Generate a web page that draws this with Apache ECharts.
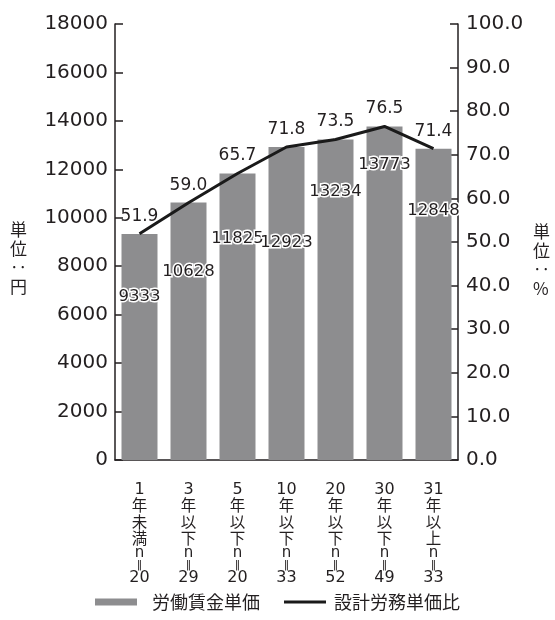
<!DOCTYPE html>
<html><head><meta charset="utf-8">
<script src="https://cdn.jsdelivr.net/npm/echarts@6/dist/echarts.min.js"></script>
<style>html,body{margin:0;padding:0;background:#fff}#c{width:555px;height:620px}</style>
</head><body><div id="c"></div>
<script>
const categories = ['1年未満','3年以下','5年以下','10年以下','20年以下','30年以下','31年以上'];
const sampleSizes = [20, 29, 20, 33, 52, 49, 33];
const wageValues = [9333, 10628, 11825, 12923, 13234, 13773, 12848];
const ratioValues = [51.9, 59.0, 65.7, 71.8, 73.5, 76.5, 71.4];
const leftTicks = {min: 0, max: 18000, interval: 2000};
const rightTicks = {min: 0, max: 100, interval: 10};
const seriesNames = ['労働賃金単価', '設計労務単価比'];
// label layout tweaks (style only)
const barLabelShift = [54, 61, 57, 87, 44, 30, 53];

const FONT = '"Noto Sans CJK JP", "Noto Sans", sans-serif';
const NUMFONT = '"DejaVu Sans", sans-serif';
const TXT = '#231f20';
const chart = echarts.init(document.getElementById('c'));

function vertLabel(cat, idx) {
  const m = cat.match(/^(\d+)(.*)$/);
  const lines = ['{d|' + m[1] + '}'];
  m[2].split('').forEach(ch => lines.push('{c|' + ch + '}'));
  lines.push('{n|n}', '{e|‖}', '{d|' + sampleSizes[idx] + '}');
  return lines.join('\n');
}

chart.setOption({
  animation: false,
  textStyle: {fontFamily: FONT, color: TXT},
  grid: {left: 115, right: 97, top: 24, bottom: 160, containLabel: false},
  legend: {
    bottom: 4, left: 'center', itemGap: 24, itemWidth: 42, itemHeight: 7,
    textStyle: {fontSize: 18, color: TXT, fontFamily: FONT},
    data: [
      {name: seriesNames[0], icon: 'rect', textStyle: {padding: [0, 0, 0, 10]}},
      {name: seriesNames[1], icon: 'path://M0,0h42v3h-42z', itemStyle: {color: '#1a1a1a'}, textStyle: {padding: [0, 0, 0, 3]}}
    ]
  },
  xAxis: {
    type: 'category', data: categories,
    axisLine: {lineStyle: {color: TXT, width: 1.5}},
    axisTick: {show: false},
    axisLabel: {
      interval: 0, margin: 22, color: TXT, verticalAlign: 'top',
      formatter: (v, i) => vertLabel(v, i),
      rich: {
        d: {fontFamily: NUMFONT, fontSize: 16, lineHeight: 15, color: TXT},
        c: {fontFamily: FONT, fontSize: 15.5, lineHeight: 16.5, color: TXT},
        n: {fontFamily: NUMFONT, fontSize: 15, lineHeight: 12.5, color: TXT},
        e: {fontFamily: NUMFONT, fontSize: 11, lineHeight: 11.5, color: TXT}
      }
    }
  },
  yAxis: [
    {
      type: 'value', min: leftTicks.min, max: leftTicks.max, interval: leftTicks.interval,
      axisLine: {show: true, lineStyle: {color: TXT, width: 1.5}},
      axisTick: {show: true, inside: true, length: 8, lineStyle: {color: TXT, width: 1.5}},
      splitLine: {show: false},
      axisLabel: {fontSize: 20, color: TXT, margin: 7, fontFamily: NUMFONT, formatter: v => String(v)}
    },
    {
      type: 'value', min: rightTicks.min, max: rightTicks.max, interval: rightTicks.interval,
      position: 'right',
      axisLine: {show: true, lineStyle: {color: TXT, width: 1.5}},
      axisTick: {show: true, inside: true, length: 8, lineStyle: {color: TXT, width: 1.5}},
      splitLine: {show: false},
      axisLabel: {fontSize: 20, color: TXT, margin: 8, fontFamily: NUMFONT, formatter: v => v.toFixed(1)}
    }
  ],
  series: [
    {
      name: seriesNames[0], type: 'bar', yAxisIndex: 0, barWidth: 36,
      itemStyle: {color: '#8d8d8f'},
      data: wageValues.map((v, i) => ({
        value: v,
        label: {offset: [0, barLabelShift[i]]}
      })),
      label: {
        show: true, position: 'insideTop', distance: 0, fontSize: 16.5, color: TXT,
        fontFamily: NUMFONT, textBorderColor: '#fff', textBorderWidth: 3
      },
      z: 2
    },
    {
      name: seriesNames[1], type: 'line', yAxisIndex: 1,
      symbol: 'circle', symbolSize: 0, showSymbol: true,
      lineStyle: {color: '#1a1a1a', width: 3},
      itemStyle: {color: '#1a1a1a'},
      data: ratioValues,
      label: {
        show: true, position: 'top', distance: 9, fontSize: 17, color: TXT,
        fontFamily: NUMFONT, formatter: p => p.value.toFixed(1)
      },
      labelLayout: {hideOverlap: false},
      z: 3
    }
  ],
  graphic: [
    {type: 'text', left: 10, top: 220, style: {text: '単\n位\n‥\n円', font: '17px ' + FONT, fill: TXT, lineHeight: 19, align: 'center'}},
    {type: 'text', left: 533, top: 222, style: {text: '単\n位\n‥\n%', font: '17px ' + FONT, fill: TXT, lineHeight: 19, align: 'center'}}
  ]
});
</script></body></html>
